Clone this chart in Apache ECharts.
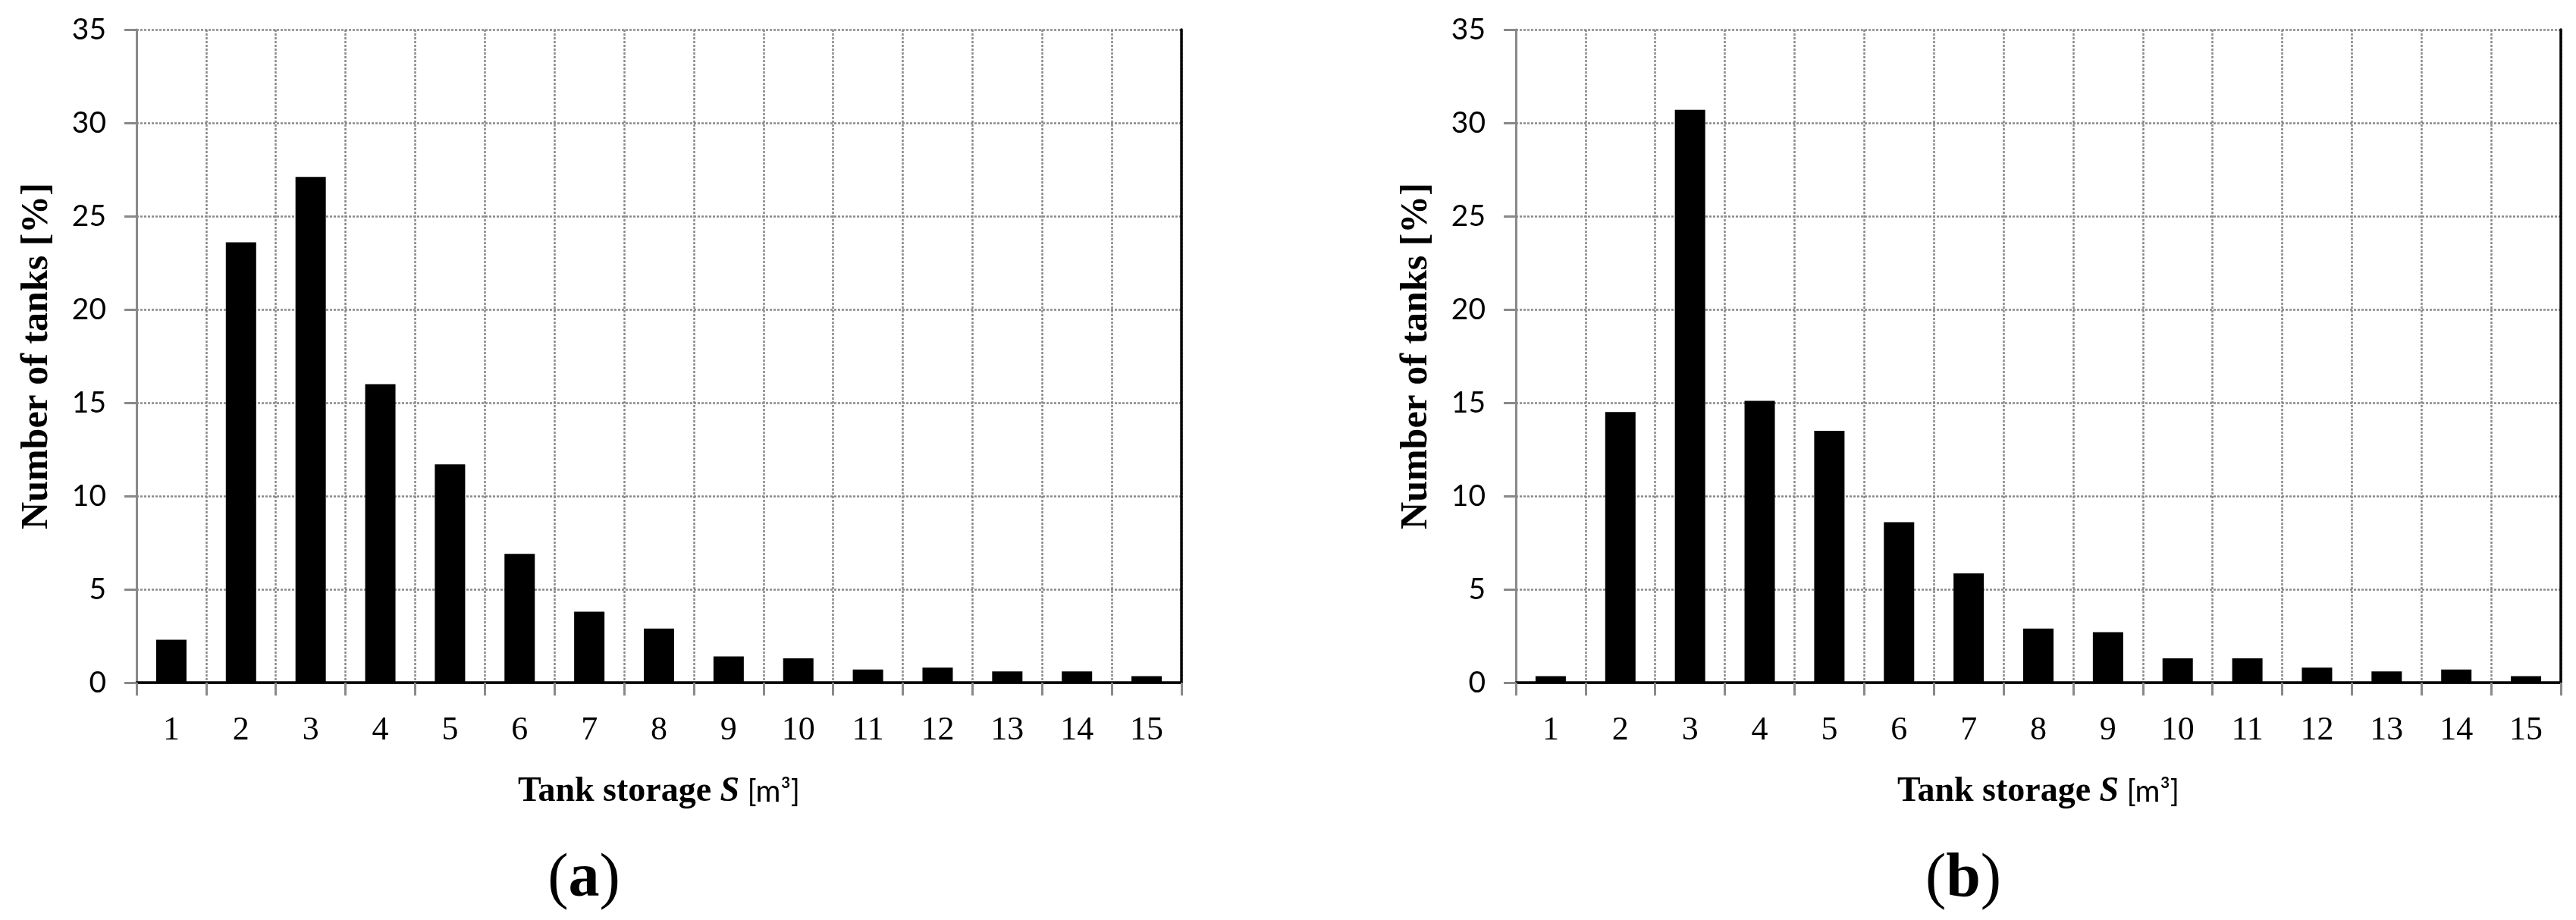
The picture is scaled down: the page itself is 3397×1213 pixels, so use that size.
<!DOCTYPE html>
<html>
<head>
<meta charset="utf-8">
<title>Tank storage</title>
<script src="https://cdn.jsdelivr.net/npm/echarts@6/dist/echarts.min.js"></script>
<style>
  html, body { margin: 0; padding: 0; background: #fff; }
  #chart { width: 3397px; height: 1213px; }
</style>
</head>
<body>
<div id="chart"></div>
<script>
// 储罐容量分类 (m3)
var categories = ['1', '2', '3', '4', '5', '6', '7', '8', '9', '10', '11', '12', '13', '14', '15']
// (a) 各容量储罐占比 %
var tanksA = [2.3, 23.6, 27.1, 16.0, 11.7, 6.9, 3.8, 2.9, 1.4, 1.3, 0.7, 0.8, 0.6, 0.6, 0.35]
// (b) 各容量储罐占比 %
var tanksB = [0.35, 14.5, 30.7, 15.1, 13.5, 8.6, 5.85, 2.9, 2.7, 1.3, 1.3, 0.8, 0.6, 0.7, 0.35]
var yMin = 0
var yMax = 35
var yStep = 5
var panelLabels = ['a', 'b']

var gray = '#898989'
var serif = '"Liberation Serif", "Times New Roman", serif'
var sans = 'Lato, "Open Sans", sans-serif'

var grids = [
  { left: 180, top: 39, width: 1378, height: 861 },
  { left: 1999, top: 39, width: 1378, height: 861 }
]

var xAxes = []
var yAxes = []
grids.forEach(function (g, i) {
  // 底部 x 轴
  xAxes.push({
    type: 'category',
    gridIndex: i,
    data: categories,
    boundaryGap: true,
    axisLine: { lineStyle: { color: gray, width: 3 } },
    axisTick: { show: true, length: 17, interval: 0, lineStyle: { color: gray, width: 3 } },
    axisLabel: { interval: 0, margin: 41, color: '#000', fontFamily: serif, fontSize: 44 },
    splitLine: { show: true, interval: 0, lineStyle: { color: gray, width: 2.5, type: [3, 2] } },
    name: '{b|Tank storage }{i|S}{r| [m³]}',
    nameLocation: 'middle',
    nameGap: 121,
    nameTextStyle: {
      rich: {
        b: { fontFamily: serif, fontWeight: 'bold', fontSize: 46, color: '#000' },
        i: { fontFamily: serif, fontWeight: 'bold', fontStyle: 'italic', fontSize: 46, color: '#000' },
        r: { fontFamily: sans, fontSize: 40, color: '#000' }
      }
    }
  })
  // 顶部边框
  xAxes.push({
    type: 'category',
    gridIndex: i,
    position: 'top',
    data: categories,
    axisLine: { lineStyle: { color: '#000', width: 3.5 } },
    axisTick: { show: false },
    axisLabel: { show: false },
    splitLine: { show: false }
  })
  // 左侧 y 轴
  yAxes.push({
    type: 'value',
    gridIndex: i,
    min: yMin,
    max: yMax,
    interval: yStep,
    axisLine: { show: true, lineStyle: { color: gray, width: 3 } },
    axisTick: { show: true, length: 16, lineStyle: { color: gray, width: 3 } },
    axisLabel: { margin: 40, color: '#000', fontFamily: sans, fontSize: 39 },
    splitLine: { show: true, lineStyle: { color: gray, width: 2.5, type: [3, 2] } },
    name: 'Number of tanks [%]',
    nameLocation: 'middle',
    nameGap: 106,
    nameTextStyle: { fontFamily: serif, fontWeight: 'bold', fontSize: 50, color: '#000' }
  })
  // 右侧边框
  yAxes.push({
    type: 'value',
    gridIndex: i,
    position: 'right',
    min: yMin,
    max: yMax,
    interval: yStep,
    axisLine: { show: true, lineStyle: { color: '#000', width: 3.5 } },
    axisTick: { show: false },
    axisLabel: { show: false },
    splitLine: { show: false }
  })
})

var option = {
  backgroundColor: '#fff',
  animation: false,
  grid: grids,
  xAxis: xAxes,
  yAxis: yAxes,
  series: [
    {
      type: 'bar',
      xAxisIndex: 0,
      yAxisIndex: 0,
      barWidth: 40,
      itemStyle: { color: '#000' },
      data: tanksA
    },
    {
      type: 'bar',
      xAxisIndex: 2,
      yAxisIndex: 2,
      barWidth: 40,
      itemStyle: { color: '#000' },
      data: tanksB
    }
  ],
  graphic: [770, 2589].map(function (x, i) {
    return {
      type: 'text',
      x: x,
      y: 1160,
      style: {
        text: '{p|(}{b|' + panelLabels[i] + '}{p|)}',
        align: 'center',
        verticalAlign: 'middle',
        rich: {
          p: { fontFamily: serif, fontSize: 82, fill: '#000' },
          b: { fontFamily: serif, fontWeight: 'bold', fontSize: 82, fill: '#000' }
        }
      }
    }
  })
}

var myChart = echarts.init(document.getElementById('chart'))
myChart.setOption(option)
</script>
</body>
</html>
